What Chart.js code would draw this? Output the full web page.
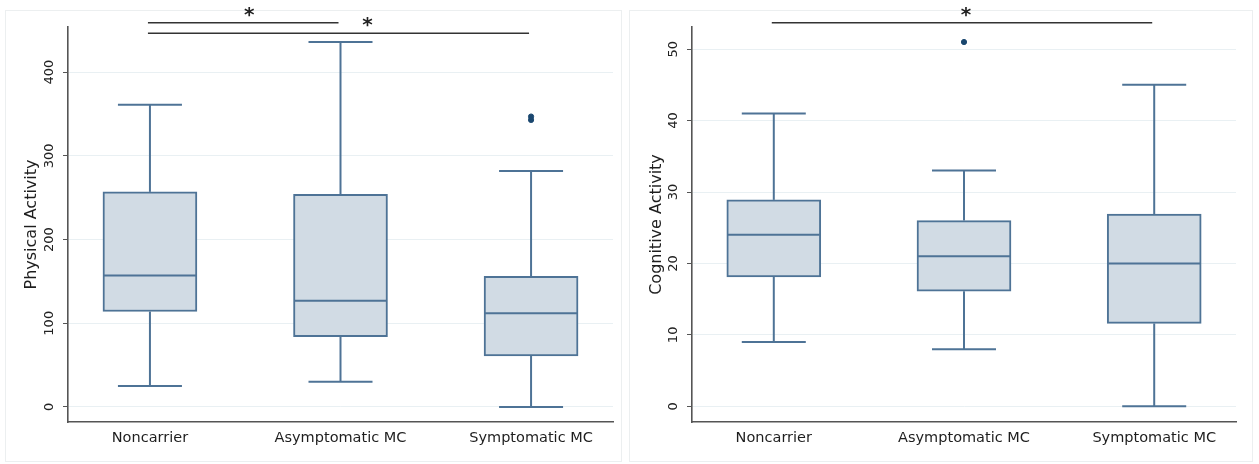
<!DOCTYPE html>
<html>
<head>
<meta charset="utf-8">
<script src="https://cdn.jsdelivr.net/npm/chart.js@4"></script>
<style>
  body { margin: 0; background: #fff; }
  #wrap { position: relative; width: 1259px; height: 464px; overflow: hidden; }
  .panel { position: absolute; top: 10px; height: 452px; border: 1px solid #eceff0; box-sizing: border-box; }
  .box { position: absolute; top: 0; height: 464px; }
</style>
</head>
<body>
<div id="wrap">
  <div class="panel" style="left:5px; width:617px;"></div>
  <div class="panel" style="left:629px; width:624px;"></div>
  <div class="box" style="left:0; width:629px;"><canvas id="phys"></canvas></div>
  <div class="box" style="left:629px; width:630px;"><canvas id="cog"></canvas></div>
</div>
<script>
// groups on the x axis
const groups = ['Noncarrier', 'Asymptomatic MC', 'Symptomatic MC'];

// Physical activity (left)
const physMin = [25, 30, 0];
const physQ1 = [114, 84, 61];
const physMed = [157, 127, 112];
const physQ3 = [257, 254, 156];
const physMax = [361, 436, 282];
const physOutliers = [[], [], [343, 347]];
const physTicks = [0, 100, 200, 300, 400];
const physPairs = [[0, 1], [0, 2]];   // significant comparisons

// Cognitive activity (right)
const cogMin = [9, 8, 0];
const cogQ1 = [18.1, 16.1, 11.6];
const cogMed = [24, 21, 20];
const cogQ3 = [28.9, 26, 26.9];
const cogMax = [41, 33, 45];
const cogOutliers = [[], [51], []];
const cogTicks = [0, 10, 20, 30, 40, 50];
const cogPairs = [[0, 2]];

const LINE = '#4e7396';
const FILL = '#d1dbe4';
const DOT = '#1a476f';
const FONT = 'DejaVu Sans';

// whiskers, caps, medians and significance bars
const boxExtras = {
  id: 'boxExtras',
  afterDatasetsDraw(chart, args, opts) {
    const ctx = chart.ctx;
    const x = chart.scales.x, y = chart.scales.y;
    ctx.save();
    ctx.strokeStyle = LINE;
    ctx.lineWidth = 2;
    groups.forEach((g, i) => {
      const cx = x.getPixelForValue(i + 1);
      const line = (x1, y1, x2, y2) => { ctx.beginPath(); ctx.moveTo(x1, y1); ctx.lineTo(x2, y2); ctx.stroke(); };
      // whiskers
      line(cx, y.getPixelForValue(opts.q3[i]), cx, y.getPixelForValue(opts.max[i]));
      line(cx, y.getPixelForValue(opts.q1[i]), cx, y.getPixelForValue(opts.min[i]));
      // caps
      line(cx - 32, y.getPixelForValue(opts.max[i]), cx + 32, y.getPixelForValue(opts.max[i]));
      line(cx - 32, y.getPixelForValue(opts.min[i]), cx + 32, y.getPixelForValue(opts.min[i]));
      // median
      line(cx - 46, y.getPixelForValue(opts.med[i]), cx + 46, y.getPixelForValue(opts.med[i]));
    });
    // significance bars
    ctx.strokeStyle = '#333';
    ctx.fillStyle = '#222';
    ctx.lineWidth = 1.6;
    ctx.font = 'bold 20px ' + FONT;
    ctx.textAlign = 'center';
    opts.pairs.forEach((p, k) => {
      const yy = chart.chartArea.top + opts.levels[k];
      const x1 = x.getPixelForValue(p[0] + 1) - 2;
      const x2 = x.getPixelForValue(p[1] + 1) - 2;
      ctx.beginPath(); ctx.moveTo(x1, yy); ctx.lineTo(x2, yy); ctx.stroke();
      ctx.fillText('*', (x1 + x2) / 2 + opts.starShift[k], yy - 2);
    });
    ctx.restore();
  }
};

function makeChart(id, d) {
  const boxes = groups.map((g, i) => ({ x: i + 1, y: [d.q1[i], d.q3[i]] }));
  const dots = [];
  d.outliers.forEach((arr, i) => arr.forEach(v => dots.push({ x: i + 1, y: v })));
  return new Chart(document.getElementById(id), {
    type: 'bar',
    data: {
      datasets: [
        {
          data: boxes,
          backgroundColor: FILL,
          borderColor: LINE,
          borderWidth: 2,
          borderSkipped: false,
          barThickness: 94
        },
        {
          type: 'scatter',
          data: dots,
          pointRadius: 2.6,
          pointBackgroundColor: DOT,
          pointBorderColor: DOT
        }
      ]
    },
    options: {
      responsive: true,
      maintainAspectRatio: false,
      animation: false,
      layout: { padding: { top: 27, right: d.padRight, left: 0, bottom: 0 } },
      plugins: {
        legend: { display: false },
        tooltip: { enabled: false },
        boxExtras: {
          min: d.min, q1: d.q1, med: d.med, q3: d.q3, max: d.max,
          pairs: d.pairs, levels: d.levels, starShift: d.starShift
        }
      },
      scales: {
        x: {
          type: 'linear',
          min: 0.57,
          max: 3.43,
          offset: false,
          afterBuildTicks: s => { s.ticks = groups.map((g, i) => ({ value: i + 1 })); },
          afterFit: s => { s.height = 42; },
          ticks: {
            callback: v => groups[v - 1],
            font: { family: FONT, size: 14.5 },
            color: '#1e1e1e',
            padding: 8,
            maxRotation: 0,
            autoSkip: false
          },
          grid: { display: false, drawTicks: false },
          border: { display: true, color: '#555', width: 1.6 }
        },
        y: {
          min: d.yMin,
          max: d.yMax,
          afterBuildTicks: s => { s.ticks = d.ticks.map(v => ({ value: v })); },
          afterFit: s => { s.width = d.axisWidth; },
          ticks: {
            font: { family: FONT, size: 13 },
            color: '#222',
            minRotation: 90,
            maxRotation: 90,
            crossAlign: 'center',
            padding: d.tickPad
          },
          grid: { color: '#e9f0f3', lineWidth: 1, tickColor: '#555', tickLength: 5 },
          border: { display: true, color: '#555', width: 1.6 },
          title: {
            display: true,
            text: d.title,
            font: { family: FONT, size: 16 },
            color: '#1e1e1e',
            padding: { top: d.titlePad, bottom: 0 }
          }
        }
      }
    },
    plugins: [boxExtras]
  });
}

makeChart('phys', {
  min: physMin, q1: physQ1, med: physMed, q3: physQ3, max: physMax,
  outliers: physOutliers, ticks: physTicks, pairs: physPairs,
  levels: [-4.3, 6.3], starShift: [6, 29],
  yMin: -18, yMax: 454, title: 'Physical Activity',
  axisWidth: 68, tickPad: 0.5, titlePad: 22.5, padRight: 16
});

makeChart('cog', {
  min: cogMin, q1: cogQ1, med: cogMed, q3: cogQ3, max: cogMax,
  outliers: cogOutliers, ticks: cogTicks, pairs: cogPairs,
  levels: [-4.3], starShift: [4],
  yMin: -2.2, yMax: 53.1, title: 'Cognitive Activity',
  axisWidth: 63, tickPad: 5.4, titlePad: 18, padRight: 23
});
</script>
</body>
</html>
